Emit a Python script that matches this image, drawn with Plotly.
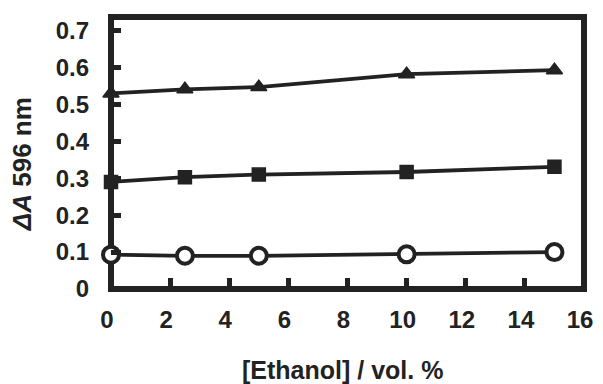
import plotly.graph_objects as go

ethanol = [0, 2.5, 5, 10, 15]
triangle_vals = [0.530, 0.541, 0.547, 0.582, 0.593]
square_vals = [0.290, 0.303, 0.310, 0.317, 0.331]
circle_vals = [0.093, 0.090, 0.090, 0.094, 0.100]

x_ticks = [0, 2, 4, 6, 8, 10, 12, 14, 16]
y_ticks = [0, 0.1, 0.2, 0.3, 0.4, 0.5, 0.6, 0.7]
y_tick_text = ["0", "0.1", "0.2", "0.3", "0.4", "0.5", "0.6", "0.7"]

INK = "#222222"
FONT = "Liberation Sans, Arial, sans-serif"

fig = go.Figure()
fig.add_trace(go.Scatter(
    x=ethanol, y=triangle_vals, mode="lines+markers",
    line=dict(color=INK, width=3.8),
    marker=dict(symbol="triangle-up", size=14, color=INK, line=dict(color=INK, width=1.5)),
    cliponaxis=False, showlegend=False))
fig.add_trace(go.Scatter(
    x=ethanol, y=square_vals, mode="lines+markers",
    line=dict(color=INK, width=3.8),
    marker=dict(symbol="square", size=13, color=INK, line=dict(color=INK, width=1.5)),
    cliponaxis=False, showlegend=False))
fig.add_trace(go.Scatter(
    x=ethanol, y=circle_vals, mode="lines+markers",
    line=dict(color=INK, width=3.8),
    marker=dict(symbol="circle", size=16, color="white", line=dict(color=INK, width=4)),
    cliponaxis=False, showlegend=False))

fig.update_xaxes(
    range=[0, 16], tickvals=x_ticks, ticktext=[str(v) for v in x_ticks],
    showgrid=False, zeroline=False, showline=False,
    ticks="inside", ticklen=11, tickwidth=4.5, tickcolor=INK,
    tickfont=dict(family=FONT, size=24, color=INK, weight="bold"),
    ticklabelstandoff=14, ticklabelshift=-4)
fig.update_yaxes(
    range=[0, 0.737], tickvals=y_ticks, ticktext=y_tick_text,
    showgrid=False, zeroline=False, showline=False,
    ticks="inside", ticklen=10, tickwidth=4.5, tickcolor=INK,
    tickfont=dict(family=FONT, size=24, color=INK, weight="bold"),
    ticklabelstandoff=21)

# plot frame
fig.add_shape(type="rect", xref="paper", yref="paper", x0=0, y0=0, x1=1, y1=1,
              line=dict(color=INK, width=6), fillcolor="rgba(0,0,0,0)", layer="below")

fig.add_annotation(
    text="<b>[Ethanol] / vol. %</b>", xref="paper", yref="paper",
    x=0.489, y=-0.299, xanchor="center", yanchor="middle", showarrow=False,
    font=dict(family=FONT, size=25, color=INK))
fig.add_annotation(
    text="<b><i>ΔA</i> 596 nm</b>", xref="paper", yref="paper",
    x=-0.188, y=0.459, xanchor="center", yanchor="middle", showarrow=False,
    textangle=-90, font=dict(family=FONT, size=26, color=INK))

fig.update_layout(
    width=595, height=376,
    margin=dict(l=102.5, r=19, t=9, b=95.3),
    paper_bgcolor="white", plot_bgcolor="white")

fig.write_html("out.html")
